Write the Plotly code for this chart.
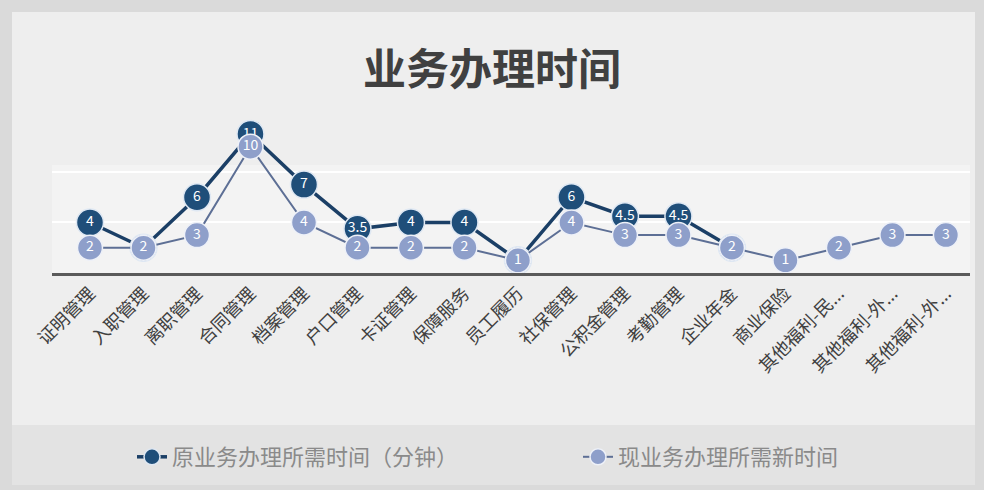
import plotly.graph_objects as go

# 业务类别
categories = [
    "证明管理", "入职管理", "离职管理", "合同管理", "档案管理", "户口管理",
    "卡证管理", "保障服务", "员工履历", "社保管理", "公积金管理", "考勤管理",
    "企业年金", "商业保险", "其他福利-民...", "其他福利-外...", "其他福利-外...",
]
x_idx = list(range(len(categories)))

# 原业务办理所需时间（分钟）
old_time = [4, 2, 6, 11, 7, 3.5, 4, 4, 1, 6, 4.5, 4.5, 2, None, None, None, None]
# 现业务办理所需新时间
new_time = [2, 2, 3, 10, 4, 2, 2, 2, 1, 4, 3, 3, 2, 1, 2, 3, 3]

old_name = "原业务办理所需时间（分钟）"
new_name = "现业务办理所需新时间"


def fmt(v):
    if v is None:
        return ""
    return str(int(v)) if float(v).is_integer() else str(v)


W, H = 984, 490
ML, MR, MT, MB = 52, 14, 100, 217


def px_x(p):
    return (p - ML) / (W - ML - MR)


def px_y(p):
    return (H - MB - p) / (H - MT - MB)


font_family = "Noto Sans CJK SC, Noto Sans, sans-serif"

fig = go.Figure()

fig.add_trace(go.Scatter(
    x=x_idx, y=old_time, name=old_name,
    mode="lines+markers+text",
    text=[fmt(v) for v in old_time],
    textposition="middle center",
    textfont=dict(color="white", size=14, family=font_family),
    line=dict(color="#1b3f66", width=3.5),
    marker=dict(size=27, color="#1f4e79", line=dict(color="#dfe8f3", width=1.5)),
    cliponaxis=False,
    legend="legend",
))

fig.add_trace(go.Scatter(
    x=x_idx, y=new_time, name=new_name,
    mode="lines+markers+text",
    text=[fmt(v) for v in new_time],
    textposition="middle center",
    textfont=dict(color="white", size=14, family=font_family),
    line=dict(color="#5d6f95", width=2),
    marker=dict(size=25, color="#8e9fca", line=dict(color="#eef1f8", width=1.5)),
    cliponaxis=False,
    legend="legend2",
))

shapes = [
    # chart face
    dict(type="rect", xref="paper", yref="paper", layer="below",
         x0=px_x(12), x1=px_x(975), y0=px_y(425), y1=px_y(12),
         fillcolor="#eeeeee", line=dict(width=0)),
    # legend band
    dict(type="rect", xref="paper", yref="paper", layer="below",
         x0=px_x(12), x1=px_x(975), y0=px_y(485), y1=px_y(425),
         fillcolor="#e3e3e3", line=dict(width=0)),
    # plot face
    dict(type="rect", xref="paper", yref="paper", layer="below",
         x0=0, x1=1, y0=0, y1=px_y(165),
         fillcolor="#f3f3f3", line=dict(width=0)),
]

legend_font = dict(size=22, color="#8a8a8a", family=font_family)

fig.update_layout(
    width=W, height=H,
    margin=dict(l=ML, r=MR, t=MT, b=MB),
    paper_bgcolor="#dadada",
    plot_bgcolor="rgba(0,0,0,0)",
    shapes=shapes,
    title=dict(
        text="<b>业务办理时间</b>",
        x=0.5, xanchor="center", y=1 - 70 / H, yanchor="middle",
        font=dict(size=43, color="#404040", family=font_family),
    ),
    xaxis=dict(
        tickmode="array", tickvals=x_idx, ticktext=categories,
        tickangle=-45, range=[-0.71, 16.45],
        tickfont=dict(size=18, color="#404040", family=font_family),
        showgrid=False, zeroline=False,
        showline=True, linecolor="#5a5a5a", linewidth=3,
        ticks="",
    ),
    yaxis=dict(
        range=[0, 13.7], tickvals=[4, 8], showticklabels=False,
        showgrid=True, gridcolor="#ffffff", gridwidth=2,
        zeroline=False, showline=False, ticks="",
    ),
    legend=dict(
        orientation="h", x=px_x(132), xanchor="left",
        y=px_y(436), yanchor="top",
        font=legend_font, bgcolor="rgba(0,0,0,0)",
    ),
    legend2=dict(
        orientation="h", x=px_x(578), xanchor="left",
        y=px_y(436), yanchor="top",
        font=legend_font, bgcolor="rgba(0,0,0,0)",
    ),
    showlegend=True,
)

fig.write_html("out.html")
